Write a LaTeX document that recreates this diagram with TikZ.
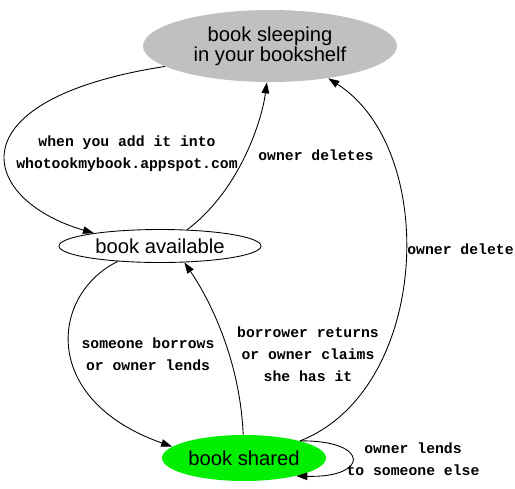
\documentclass[tikz,border=0pt]{standalone}
\usepackage{fontspec}
\usetikzlibrary{shapes.geometric,arrows.meta}
\newfontfamily\statefont{Liberation Sans}
\newfontfamily\edgefont{Liberation Mono}
\definecolor{shelfgray}{HTML}{C0C0C0}
\definecolor{sharegreen}{RGB}{0,238,0}
\tikzset{
	state/.style={ellipse, inner sep=0pt, font=\statefont\fontsize{11.5}{11.5}\selectfont, align=center},
	edgelabel/.style={inner sep=0pt, align=center, font=\edgefont\bfseries\fontsize{8.4}{12.5}\selectfont},
	wire/.style={line width=0.5pt, -{Triangle[length=0.22cm, width=0.15cm]}}
}
\begin{document}
\begin{tikzpicture}[x=0.02cm, y=-0.02cm]
	\useasboundingbox (0, 0) rectangle (515, 488);
	% States:
	\node[state, fill=shelfgray, minimum width=5.08cm, minimum height=1.44cm] (sleeping) at (270, 46){book sleeping\\in your bookshelf};
	\node[state, draw, line width=0.5pt, minimum width=4.04cm, minimum height=0.66cm] (available) at (160, 246){book available};
	\node[state, fill=sharegreen, minimum width=3.28cm, minimum height=0.92cm] (shared) at (244, 458){book shared};
	% Transitions:
	\draw[wire] (sleeping.191) .. controls (-50, 100) and (-20, 200) .. (available.169);
	\draw[wire] (available.31) .. controls (240, 190) and (262, 120) .. (sleeping.265);
	\draw[wire] (available.200) .. controls (50, 295) and (40, 400) .. (shared.171);
	\draw[wire] (shared.92) .. controls (240, 360) and (210, 300) .. (available.-34);
	\draw[wire] (shared.17) .. controls (430, 390) and (440, 150) .. (sleeping.-29);
	\draw[wire] (shared.17) .. controls (370, 440) and (370, 478) .. (shared.-19);
	% Labels:
	\node[edgelabel] (addlabel) at (127, 154){when you add it into\\whotookmybook.appspot.com};
	\node[edgelabel, anchor=west] (deleteslabel) at (258, 155){owner deletes};
	\node[edgelabel] (borrowlabel) at (148, 354){someone borrows\\or owner lends};
	\node[edgelabel] (returnlabel) at (308, 354){borrower returns\\or owner claims\\she has it};
	\node[edgelabel, anchor=west] (deletelabel) at (407, 249){owner delete};
	\node[edgelabel] (lendlabel) at (413, 459){owner lends\\to someone else};
\end{tikzpicture}
\end{document}
